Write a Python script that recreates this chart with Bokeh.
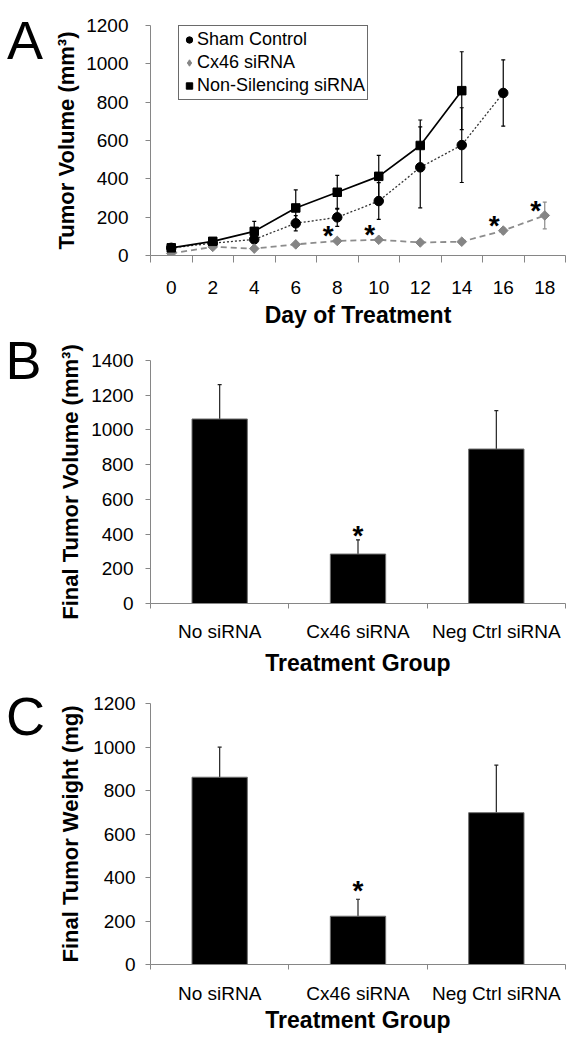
from bokeh.plotting import figure
from bokeh.layouts import column, row
from bokeh.models import (FixedTicker, Range1d, Whisker, TeeHead, ColumnDataSource,
                          Legend, LegendItem)
from bokeh.core.properties import value
from bokeh.embed import file_html
from bokeh.resources import INLINE
import math

# ---------------- data ----------------
days = [0, 2, 4, 6, 8, 10, 12, 14, 16, 18]
sham_days = [0, 2, 4, 6, 8, 10, 12, 14, 16]
sham_vol = [40, 64, 84, 168, 199, 284, 460, 576, 848]
sham_err = [6, 10, 18, 40, 47, 96, 211, 195, 173]
nonsil_days = [0, 2, 4, 6, 8, 10, 12, 14]
nonsil_vol = [40, 74, 126, 248, 330, 413, 574, 860]
nonsil_err = [8, 12, 52, 94, 88, 109, 133, 203]
cx46_days = [0, 2, 4, 6, 8, 10, 12, 14, 16, 18]
cx46_vol = [11, 45, 36, 58, 76, 82, 68, 72, 130, 209]
cx46_err = [4, 6, 8, 10, 10, 12, 10, 10, 16, 70]
star_days = [8, 10, 16, 18]
series_names = ["Sham Control", "Cx46 siRNA", "Non-Silencing siRNA"]

groups = ["No siRNA", "Cx46 siRNA", "Neg Ctrl siRNA"]
final_volume = [1063, 285, 890]
final_volume_err = [198, 82, 221]
final_weight = [861, 222, 698]
final_weight_err = [138, 78, 219]
star_group = "Cx46 siRNA"
panel_letters = ["A", "B", "C"]

FONT = "Liberation Sans"
AX = "#868686"
MAIN_W = 533


def base_axes(p, yticks, label_size="19px"):
    p.outline_line_color = None
    p.xgrid.visible = False
    p.ygrid.visible = False
    for ax in (p.xaxis[0], p.yaxis[0]):
        ax.axis_line_color = AX
        ax.major_tick_line_color = AX
        ax.minor_tick_line_color = AX
        ax.major_label_text_font = FONT
        ax.major_label_text_font_size = label_size
        ax.major_label_text_color = "black"
        ax.axis_label_text_font = FONT
        ax.axis_label_text_font_style = "bold"
        ax.axis_label_text_color = "black"
    p.yaxis.ticker = FixedTicker(ticks=yticks)
    p.yaxis.major_tick_out = 5
    p.yaxis.major_tick_in = 0
    p.yaxis.axis_label_text_font_size = "22px"
    p.xaxis.axis_label_text_font_size = "23px"
    p.xaxis.major_tick_out = 0
    p.xaxis.major_tick_in = 0
    p.xaxis.minor_tick_in = 0


# ---------------- Panel A ----------------
pA = figure(width=MAIN_W, height=338, output_backend="svg", toolbar_location=None,
            x_range=Range1d(-1, 19), y_range=Range1d(0, 1200),
            min_border_left=102, min_border_right=14, min_border_top=25, min_border_bottom=83)
base_axes(pA, list(range(0, 1201, 200)))
boundaries = [d - 1 for d in days] + [days[-1] + 1]
pA.xaxis.ticker = FixedTicker(ticks=days, minor_ticks=boundaries)
pA.xaxis.minor_tick_out = 7
pA.xaxis.major_label_standoff = 18
pA.xaxis.axis_label = "Day of Treatment"
pA.xaxis.axis_label_standoff = 5
pA.yaxis.axis_label = "Tumor Volume (mm³)"
pA.yaxis.major_label_standoff = 17
pA.yaxis.axis_label_standoff = 4


def err_source(x, v, e):
    return ColumnDataSource(dict(x=x, y=v, lo=[a - b for a, b in zip(v, e)],
                                 hi=[a + b for a, b in zip(v, e)]))


src_sham = err_source(sham_days, sham_vol, sham_err)
src_non = err_source(nonsil_days, nonsil_vol, nonsil_err)
src_cx = err_source(cx46_days, cx46_vol, cx46_err)

for src, col in ((src_sham, "black"), (src_non, "black"), (src_cx, "#8a8a8a")):
    pA.add_layout(Whisker(source=src, base="x", lower="lo", upper="hi", line_color=col,
                          line_width=1.2,
                          upper_head=TeeHead(size=4, line_color=col, line_width=1.2),
                          lower_head=TeeHead(size=4, line_color=col, line_width=1.2)))

pA.line("x", "y", source=src_sham, line_color="#333333", line_width=1.3, line_dash="2 2")
pA.line("x", "y", source=src_cx, line_color="#8c8c8c", line_width=1.8, line_dash="6 4")
pA.line("x", "y", source=src_non, line_color="black", line_width=1.7)
r_sham = pA.scatter("x", "y", source=src_sham, marker="circle", size=9.5,
                    fill_color="black", line_color="black")
# legend swatch for the diamond series (legend glyphs are never rotated); it sits on the
# first Cx46 point and is fully covered by the rotated-square marker drawn on top of it
r_cx_key = pA.scatter(x=cx46_days[:1], y=cx46_vol[:1], marker="diamond", size=7,
                      fill_color="#858585", line_color="#858585")
pA.scatter("x", "y", source=src_cx, marker="square", size=6.8, angle=math.pi / 4,
           fill_color="#858585", line_color="#858585")
r_non = pA.scatter("x", "y", source=src_non, marker="square", size=8.5,
                   fill_color="black", line_color="black")

star_vals = [cx46_vol[cx46_days.index(d)] for d in star_days]
pA.text(x=star_days, y=star_vals, text=["*"] * len(star_days), x_offset=-9, y_offset=-5,
        text_font=value(FONT), text_font_size="28px", text_font_style="bold",
        text_align="center", text_baseline="alphabetic", text_color="black")

legend = Legend(items=[LegendItem(label=series_names[0], renderers=[r_sham]),
                       LegendItem(label=series_names[1], renderers=[r_cx_key]),
                       LegendItem(label=series_names[2], renderers=[r_non])],
                location=(28, 155), label_text_font=FONT, label_text_font_size="18px",
                label_text_color="black",
                glyph_width=16, glyph_height=23, label_height=23, label_standoff=0,
                spacing=0, padding=2, margin=0, border_line_color="#6a6a6a",
                border_line_width=1.3, border_line_alpha=1,
                background_fill_color="white", background_fill_alpha=1)
pA.add_layout(legend)


# ---------------- bar panels ----------------
def bar_panel(height, left, right, top, bottom, vals, errs, yticks, ylabel, tick_standoff,
              ylab_standoff, xlab_standoff, xlabel_standoff, star_dy):
    idx = list(range(len(groups)))
    p = figure(width=MAIN_W, height=height, output_backend="svg", toolbar_location=None,
               x_range=Range1d(-0.5, len(groups) - 0.5), y_range=Range1d(0, yticks[-1]),
               min_border_left=left, min_border_right=right, min_border_top=top,
               min_border_bottom=bottom)
    base_axes(p, yticks)
    p.xaxis.ticker = FixedTicker(ticks=idx,
                                 minor_ticks=[i - 0.5 for i in idx] + [len(groups) - 0.5])
    p.xaxis.major_label_overrides = {i: g for i, g in zip(idx, groups)}
    p.xaxis.minor_tick_out = 5
    p.xaxis.major_label_standoff = xlab_standoff
    p.xaxis.axis_label = "Treatment Group"
    p.xaxis.axis_label_standoff = xlabel_standoff
    p.yaxis.axis_label = ylabel
    p.yaxis.major_label_standoff = tick_standoff
    p.yaxis.axis_label_standoff = ylab_standoff
    src = ColumnDataSource(dict(x=idx, top=vals, hi=[v + e for v, e in zip(vals, errs)]))
    p.add_layout(Whisker(source=src, base="x", lower="top", upper="hi", line_color="#222222",
                         line_width=1.2, lower_head=None,
                         upper_head=TeeHead(size=4, line_color="#222222", line_width=1.2)))
    p.vbar(x="x", top="top", width=0.4, source=src, fill_color="black", line_color="#6e6e6e",
           line_width=1)
    si = groups.index(star_group)
    p.text(x=[si], y=[vals[si] + errs[si]], text=["*"], y_offset=star_dy,
           text_font=value(FONT), text_font_size="28px", text_font_style="bold",
           text_align="center", text_baseline="alphabetic", text_color="black")
    return p


pB = bar_panel(348, 99, 16, 22, 83, final_volume, final_volume_err, list(range(0, 1401, 200)),
               "Final Tumor Volume (mm³)", 12, 5, 12, 5, -4)
pC = bar_panel(356, 92, 16, 17, 78, final_weight, final_weight_err, list(range(0, 1201, 200)),
               "Final Tumor Weight (mg)", 10, 7, 13, 0, -9)

# ---------------- panel letters (separate narrow strip, y measured from top) -----------
total_h = 338 + 348 + 356
pL = figure(width=48, height=total_h, output_backend="svg", toolbar_location=None,
            x_range=Range1d(0, 48), y_range=Range1d(total_h, 0),
            x_axis_type=None, y_axis_type=None,
            min_border_left=0, min_border_right=0, min_border_top=0, min_border_bottom=0)
pL.outline_line_color = None
pL.xgrid.visible = False
pL.ygrid.visible = False
pL.text(x=[6.5, 5, 5.5], y=[39, 359, 715], text=panel_letters,
        text_font=value(FONT), text_font_size="54px", text_color="black",
        text_align="left", text_baseline="alphabetic")

layout = row(pL, column(pA, pB, pC, spacing=0), spacing=0)
open("out.html", "w").write(file_html(layout, INLINE))
